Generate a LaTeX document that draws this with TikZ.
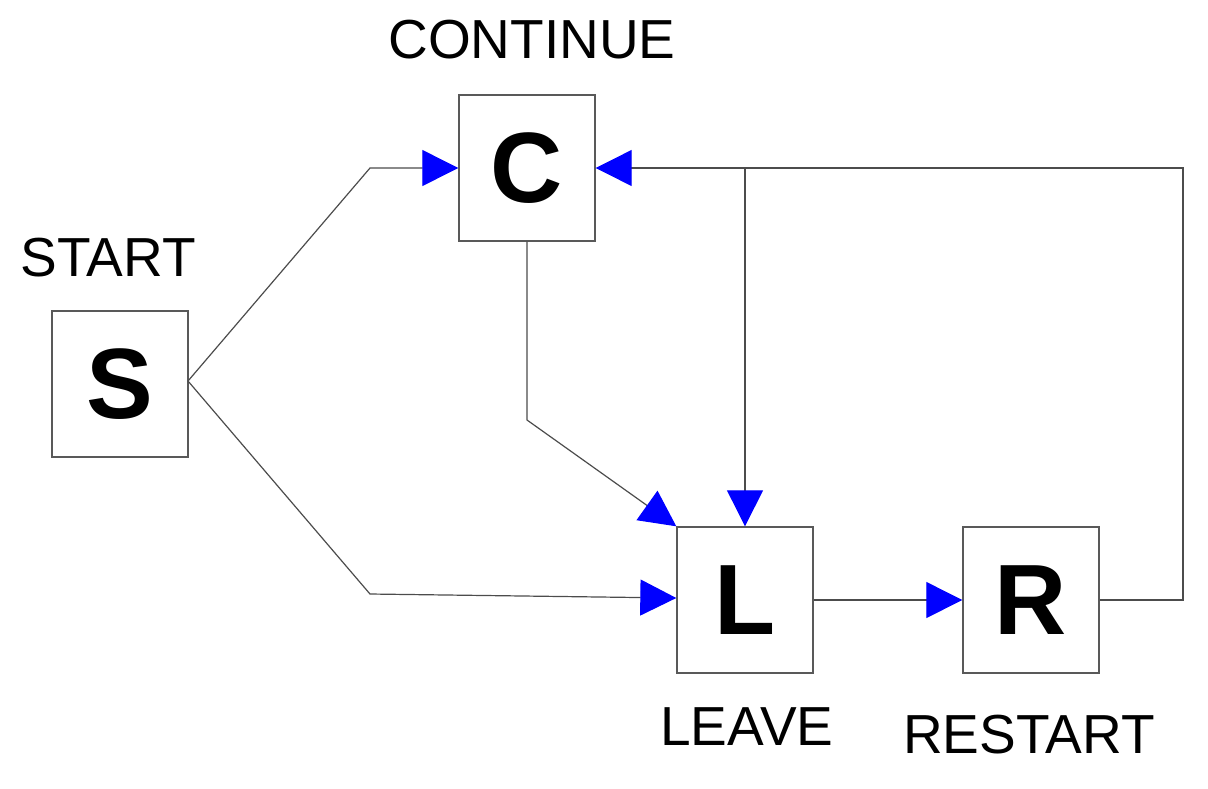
\documentclass[tikz,border=0pt]{standalone}
\usepackage{fontspec}
\setmainfont{Liberation Sans}
\usetikzlibrary{arrows.meta}
\begin{document}
\begin{tikzpicture}[x=0.5pt,y=-0.5pt,
  box/.style={draw=gray!70!black,line width=0.7pt,minimum width=68pt,minimum height=73pt,inner sep=0pt,font=\fontsize{50}{52}\selectfont\bfseries},
  lab/.style={font=\fontsize{27.5}{29}\selectfont},
  conn/.style={draw=gray!60!black,line width=0.6pt},
  arr/.style={conn,-{Triangle[length=18pt,width=18pt,fill=blue,color=blue]}}]
\useasboundingbox (0,0) rectangle (1208,788);
\node[box] (S) at (120,384) {S};
\node[box] (C) at (527,168) {C};
\node[box] (L) at (745,600) {L};
\node[box] (R) at (1031,600) {R};
\node[lab] (tS) at (108,258) {START};
\node[lab] (tC) at (532,40) {CONTINUE};
\node[lab] (tL) at (747,727) {LEAVE};
\node[lab] (tR) at (1029,735) {RESTART};
\coordinate (s0) at (188,381);
\coordinate (a1) at (370,168);
\coordinate (a2) at (370,594);
\coordinate (c1) at (527,420);
\coordinate (r1) at (1183,600);
\coordinate (r2) at (1183,168);
\coordinate (j) at (745,168);
\draw[arr] (s0) -- (a1) -- (C.west);
\draw[arr] (s0) -- (a2) -- (L.west |- 0,598);
\draw[arr] (C.south) -- (c1) -- (L.north west);
\draw[arr] (L.east) -- (R.west);
\draw[arr] (R.east) -- (r1) -- (r2) -- (C.east);
\draw[arr] (j) -- (L.north);
\end{tikzpicture}
\end{document}
